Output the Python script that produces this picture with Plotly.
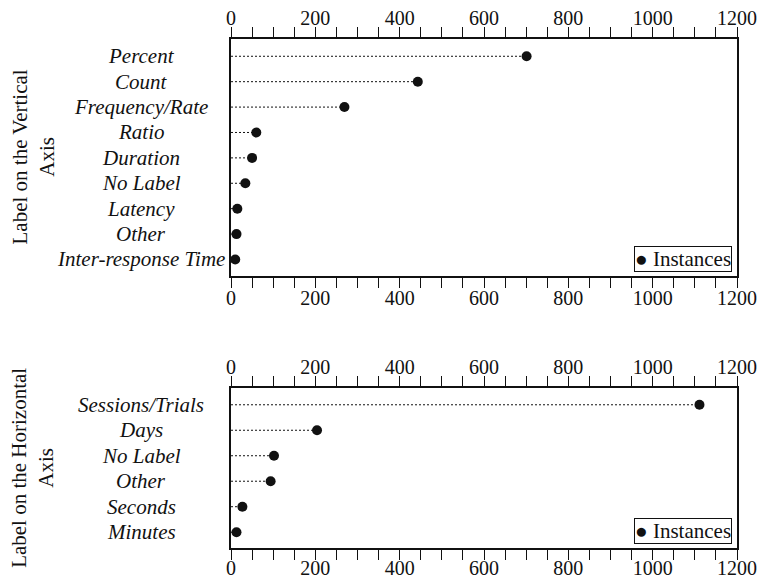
import plotly.graph_objects as go

# ---- data ----
vert_labels = ["Percent", "Count", "Frequency/Rate", "Ratio", "Duration",
               "No Label", "Latency", "Other", "Inter-response Time"]
vert_values = [701, 443, 269, 60, 50, 34, 15, 13, 10]

horiz_labels = ["Sessions/Trials", "Days", "No Label", "Other", "Seconds", "Minutes"]
horiz_values = [1111, 204, 102, 94, 27, 13]

x_ticks = [0, 200, 400, 600, 800, 1000, 1200]
series_name = "Instances"
vert_title = "Label on the Vertical<br>Axis"
horiz_title = "Label on the Horizontal<br>Axis"

FONT = '"Liberation Serif", "Times New Roman", Times, serif'
INK = "#111111"

fig = go.Figure()


def add_panel(labels, values, xa, ya):
    lx, ly = [], []
    for lab, v in zip(labels, values):
        lx += [0, v, None]
        ly += [lab, lab, None]
    fig.add_trace(go.Scatter(x=lx, y=ly, mode="lines", xaxis=xa, yaxis=ya,
                             line=dict(color=INK, width=1, dash="2px,2px"),
                             showlegend=False, hoverinfo="skip"))
    fig.add_trace(go.Scatter(x=values, y=labels, mode="markers", xaxis=xa, yaxis=ya,
                             marker=dict(color=INK, size=10), name=series_name,
                             showlegend=False))


add_panel(vert_labels, vert_values, "x", "y")
add_panel(horiz_labels, horiz_values, "x2", "y2")

# invisible traces for the top label axes
fig.add_trace(go.Scatter(x=[0], y=[vert_labels[0]], xaxis="x3", yaxis="y",
                         mode="markers", marker=dict(opacity=0), showlegend=False,
                         hoverinfo="skip"))
fig.add_trace(go.Scatter(x=[0], y=[horiz_labels[0]], xaxis="x4", yaxis="y2",
                         mode="markers", marker=dict(opacity=0), showlegend=False,
                         hoverinfo="skip"))

XD = [231 / 770, 737 / 770]
Y1 = [1 - 276 / 579, 1 - 39 / 579]
Y2 = [1 - 548 / 579, 1 - 387.7 / 579]
LABEL_X = 141 / 770

xcommon = dict(range=[0, 1200], tickvals=x_ticks, ticks="outside", ticklen=10,
               tickwidth=1, tickcolor=INK, showline=True, linecolor=INK, linewidth=1.5,
               showgrid=False, zeroline=False, automargin=False,
               tickfont=dict(family=FONT, size=20, color=INK),
               minor=dict(dtick=50, tick0=0, ticks="outside", ticklen=10, tickwidth=1,
                          tickcolor=INK, showgrid=False),
               fixedrange=True)

ycommon = dict(showline=True, linecolor=INK, linewidth=1.5, mirror=True, ticks="",
               showgrid=False, zeroline=False, type="category", categoryorder="array",
               automargin=False, showticklabels=False)

legend_box = dict(text="\u25CF " + series_name, xref="paper", yref="paper",
                  xanchor="right", yanchor="bottom", showarrow=False,
                  font=dict(family=FONT, size=21, color=INK),
                  bordercolor=INK, borderwidth=1, borderpad=0, bgcolor="white")

# centred category labels (as in the reference)
cat_annots = []
for labels, yref in ((vert_labels, "y"), (horiz_labels, "y2")):
    for lab in labels:
        cat_annots.append(dict(text=lab, x=LABEL_X, xref="paper", y=lab, yref=yref,
                               xanchor="center", yanchor="middle", showarrow=False,
                               font=dict(family=FONT, size=21, color=INK, style="italic")))

fig.update_layout(
    width=770, height=579,
    margin=dict(l=0, r=0, t=0, b=0),
    paper_bgcolor="white", plot_bgcolor="white",
    font=dict(family=FONT, color=INK),
    showlegend=False,
    xaxis=dict(domain=XD, anchor="y", side="bottom", ticklabelstandoff=-7, **xcommon),
    xaxis3=dict(domain=XD, anchor="y", side="top", overlaying="x", matches="x",
                ticklabelstandoff=-6, **xcommon),
    xaxis2=dict(domain=XD, anchor="y2", side="bottom", ticklabelstandoff=-9, **xcommon),
    xaxis4=dict(domain=XD, anchor="y2", side="top", overlaying="x2", matches="x2",
                ticklabelstandoff=-6, **xcommon),
    yaxis=dict(domain=Y1, anchor="x", categoryarray=vert_labels[::-1],
               range=[-0.65, 8.68], **ycommon),
    yaxis2=dict(domain=Y2, anchor="x2", categoryarray=horiz_labels[::-1],
                range=[-0.62, 5.67], **ycommon),
    annotations=[
        dict(text=vert_title, x=33 / 770, y=(Y1[0] + Y1[1]) / 2, xref="paper", yref="paper",
             textangle=-90, showarrow=False, font=dict(family=FONT, size=21, color=INK),
             xanchor="center", yanchor="middle"),
        dict(text=horiz_title, x=33 / 770, y=(Y2[0] + Y2[1]) / 2, xref="paper", yref="paper",
             textangle=-90, showarrow=False, font=dict(family=FONT, size=21, color=INK),
             xanchor="center", yanchor="middle"),
        dict(legend_box, x=731.5 / 770, y=1 - 271.7 / 579),
        dict(legend_box, x=731.5 / 770, y=1 - 544 / 579),
    ] + cat_annots,
)

fig.write_html("out.html", config={"displayModeBar": False},
               post_script="document.body.style.margin='0';")
